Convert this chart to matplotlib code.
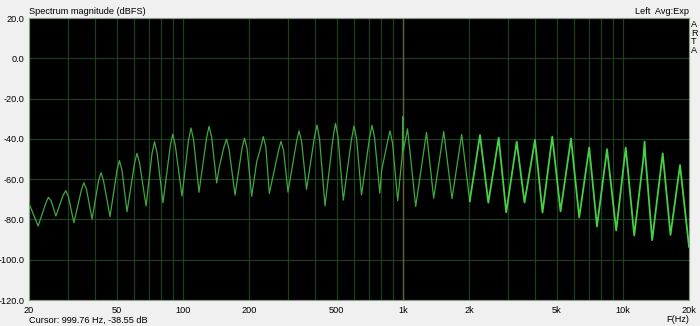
import matplotlib
matplotlib.use("Agg")
from matplotlib import pyplot as plt
from matplotlib.ticker import FixedLocator, NullFormatter

# Spectrum trace (frequency in Hz, level in dBFS)
freq_hz = [
    20.0, 22.0, 23.9, 24.5, 25.2, 26.5, 28.6, 29.4, 30.2, 32.0,
    34.6, 35.5, 36.5, 38.7, 41.4, 42.5, 43.6, 46.7, 50.2, 51.5,
    52.9, 55.8, 60.3, 61.9, 63.6, 68.1, 72.5, 74.4, 76.4, 81.3,
    87.7, 90.0, 92.4, 99.2, 106.2, 109.0, 111.9, 118.5, 128.2, 131.6,
    135.2, 142.6, 146.6, 153.9, 158.0, 162.3, 172.8, 185.8, 190.8, 196.0,
    205.7, 216.8, 226.3, 232.3, 238.6, 247.4, 272.3, 279.6, 287.1, 300.8,
    328.8, 337.6, 346.7, 365.2, 397.0, 407.6, 418.6, 443.2, 481.7, 494.6,
    508.0, 536.6, 584.6, 600.2, 616.4, 649.2, 706.0, 724.8, 744.4, 786.2,
    802.0, 852.0, 875.0, 898.6, 948.2, 995.0, 1000.0, 1005.0, 1051.0, 1145.0,
    1282.0, 1382.0, 1535.0, 1674.0, 1853.0, 2015.0, 2244.0, 2448.0, 2729.0, 2952.0,
    3296.0, 3576.0, 3990.0, 4316.0, 4782.0, 5213.0, 5816.0, 6338.0, 7038.0, 7634.0,
    8480.0, 9338.0, 10314.0, 11272.0, 12400.0, 12560.0, 12700.0, 13606.0, 15190.0, 16480.0,
    18204.0, 20000.0,
]
level_db = [
    -72.0, -83.3, -71.6, -69.0, -70.7, -78.3, -67.9, -65.7, -68.6, -81.6,
    -65.4, -61.8, -65.0, -79.8, -60.9, -56.8, -60.7, -78.6, -55.8, -50.8,
    -55.4, -76.2, -52.4, -47.2, -51.9, -73.3, -47.1, -41.4, -46.9, -71.7,
    -43.7, -37.6, -43.1, -68.4, -40.7, -34.6, -40.3, -66.5, -39.7, -33.8,
    -38.9, -61.9, -53.8, -44.0, -40.1, -45.1, -67.9, -44.8, -39.7, -44.9,
    -68.5, -51.3, -44.2, -38.9, -44.0, -67.1, -45.9, -41.2, -45.7, -66.4,
    -41.5, -36.0, -41.2, -65.1, -38.9, -33.1, -40.3, -73.3, -39.7, -32.3,
    -39.2, -70.4, -40.2, -33.6, -39.8, -67.9, -39.5, -33.3, -39.3, -66.9,
    -55.5, -41.6, -36.0, -42.2, -70.7, -48.0, -29.0, -46.0, -35.0, -73.5,
    -36.8, -69.5, -36.3, -69.7, -37.8, -71.0, -38.1, -71.7, -39.5, -76.5,
    -41.4, -71.6, -40.5, -76.6, -38.9, -76.0, -39.8, -79.0, -44.3, -83.5,
    -45.1, -85.5, -44.3, -88.0, -50.0, -41.4, -50.0, -90.3, -47.2, -87.7,
    -53.0, -93.6,
]

major_ticks = [20, 50, 100, 200, 500, 1000, 2000, 5000, 10000, 20000]
major_labels = ["20", "50", "100", "200", "500", "1k", "2k", "5k", "10k", "20k"]
y_ticks = [20, 0, -20, -40, -60, -80, -100, -120]
y_labels = ["20.0", "0.0", "-20.0", "-40.0", "-60.0", "-80.0", "-100.0", "-120.0"]

plt.rcParams["font.family"] = ["Liberation Sans", "DejaVu Sans"]
fs = 6.6
grid_col = "#1f3d1f"

fig = plt.figure(figsize=(7.0, 3.26), dpi=100, facecolor="#f0f0f0")
ax = fig.add_axes([29 / 700, 26 / 326, 660 / 700, 282 / 326])
ax.set_facecolor("black")
ax.set_xscale("log")
ax.set_xlim(20, 20000)
ax.set_ylim(-120, 20)

# grid: every 10/100/1k step on x, every 20 dB on y
minor = [m * d for d in (10, 100, 1000, 10000) for m in range(1, 10)]
minor = [v for v in minor if 20 < v < 20000 and v not in major_ticks]
ax.xaxis.set_major_locator(FixedLocator(major_ticks))
ax.xaxis.set_minor_locator(FixedLocator(minor))
ax.xaxis.set_minor_formatter(NullFormatter())
ax.set_xticklabels(major_labels)
ax.set_yticks(y_ticks)
ax.set_yticklabels(y_labels)
ax.grid(True, which="both", axis="x", color=grid_col, linewidth=0.9)
ax.grid(True, which="major", axis="y", color=grid_col, linewidth=0.9)
ax.set_axisbelow(True)
ax.tick_params(which="both", length=0, labelsize=fs, colors="#000000")
ax.tick_params(axis="x", pad=4)
ax.tick_params(axis="y", pad=3)
for s in ax.spines.values():
    s.set_color("#8a9a8a")
    s.set_linewidth(0.8)

# cursor line at 1 kHz
ax.axvline(1000, color="#5f5f35", linewidth=1.0, zorder=1.5)

# trace: smooth part dimmer, noisy high end brighter
lo_f = [f for f in freq_hz if f <= 2015]
lo_d = level_db[:len(lo_f)]
hi_f = freq_hz[len(lo_f) - 1:]
hi_d = level_db[len(lo_f) - 1:]
ax.plot(lo_f, lo_d, color="#3fa83f", linewidth=0.9, zorder=3)
ax.plot(hi_f, hi_d, color="#45d045", linewidth=1.3, zorder=3)

fig.text(29 / 700, 1 - 11 / 326, "Spectrum magnitude (dBFS)", fontsize=fs, va="center", ha="left")
fig.text(689 / 700, 1 - 11 / 326, "Left  Avg:Exp", fontsize=fs, va="center", ha="right")
fig.text(694 / 700, 1 - 20 / 326, "A\nR\nT\nA", fontsize=fs, va="top", ha="center", linespacing=0.95)
fig.text(29 / 700, 1 - 320 / 326, "Cursor: 999.76 Hz, -38.55 dB", fontsize=fs, va="center", ha="left")
fig.text(689 / 700, 1 - 320 / 326, "F(Hz)", fontsize=fs, va="center", ha="right")

plt.savefig("out.png", dpi=100, facecolor=fig.get_facecolor())
